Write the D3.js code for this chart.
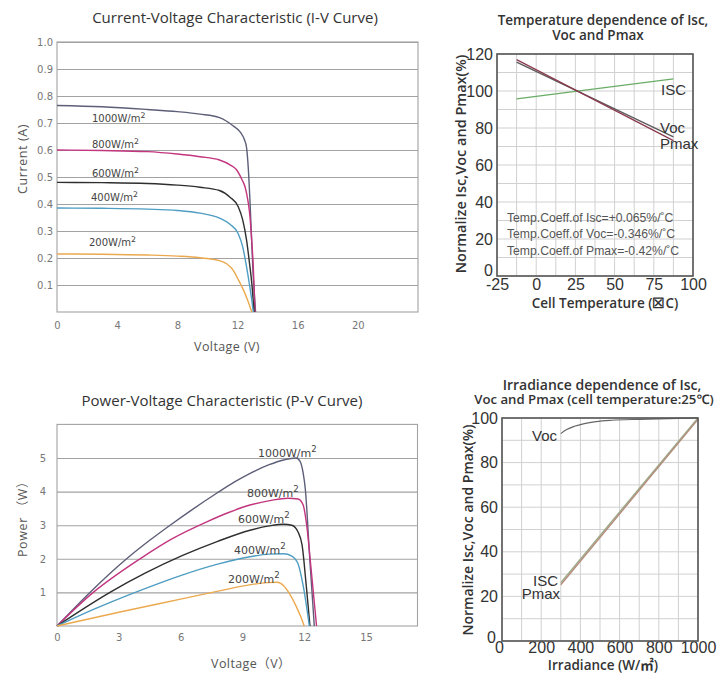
<!DOCTYPE html>
<html><head><meta charset="utf-8">
<script src="https://cdn.jsdelivr.net/npm/d3@7"></script>
<style>
body{margin:0;background:#fff;}
svg{display:block;}
</style></head><body>
<svg id="c" width="724" height="677"></svg>
<script>
// ---------------- DATA ----------------
const irradianceNames = ["1000W/m", "800W/m", "600W/m", "400W/m", "200W/m"];

// I-V curves: [voltage (V), current (A)]
const iv1000 = [[0,0.765],[3,0.76],[6,0.75],[8,0.742],[9.5,0.733],[10.8,0.72],[11.7,0.69],[12.2,0.665],[12.45,0.64],[12.6,0.61],[12.72,0.53],[12.83,0.41],[12.93,0.28],[13.02,0.16],[13.12,0.07],[13.2,0]];
const iv800  = [[0,0.60],[3,0.598],[6,0.594],[8,0.585],[9.5,0.575],[10.8,0.563],[11.5,0.545],[11.95,0.526],[12.3,0.49],[12.5,0.464],[12.7,0.41],[12.83,0.353],[12.95,0.26],[13.05,0.168],[13.16,0]];
const iv600  = [[0,0.48],[3,0.479],[6,0.476],[8,0.47],[9.5,0.462],[10.8,0.45],[11.5,0.425],[12.05,0.39],[12.35,0.34],[12.6,0.267],[12.8,0.18],[12.95,0.107],[13.1,0]];
const iv400  = [[0,0.385],[3,0.384],[6,0.381],[8,0.376],[9.5,0.366],[10.8,0.348],[11.5,0.325],[12.05,0.29],[12.35,0.24],[12.6,0.168],[12.8,0.1],[12.95,0.044],[13.05,0]];
const iv200  = [[0,0.215],[3,0.214],[6,0.211],[8,0.207],[9.5,0.201],[10.8,0.19],[11.3,0.178],[11.7,0.156],[12.05,0.12],[12.4,0.081],[12.7,0.04],[12.95,0]];
const ivVoltTicks = [0,4,8,12,16,20];
const ivCurrentTicks = [0.1,0.2,0.3,0.4,0.5,0.6,0.7,0.8,0.9,1.0];

// P-V curves: [voltage (V), power (W)]
const pv1000 = [[0,0],[1.6,1.0],[3.38,2.0],[4.5,2.55],[5.49,3.0],[6.6,3.48],[7.75,3.95],[8.6,4.28],[9.4,4.55],[10.3,4.8],[11.0,4.94],[11.6,5.0],[11.8,4.9],[11.95,4.55],[12.05,4.1],[12.27,2.0],[12.49,0]];
const pv800  = [[0,0],[1.76,1.0],[4.03,2.0],[5.6,2.6],[7.27,3.1],[8.3,3.37],[9.37,3.6],[10.4,3.74],[11.2,3.8],[11.7,3.78],[11.95,3.6],[12.1,3.1],[12.35,1.6],[12.6,0]];
const pv600  = [[0,0],[1.2,0.48],[2.57,1.0],[4.3,1.58],[6.1,2.1],[7.8,2.52],[9.37,2.85],[10.3,2.98],[11.0,3.03],[11.4,3.0],[11.7,2.8],[11.9,2.4],[12.1,1.2],[12.28,0]];
const pv400  = [[0,0],[1.8,0.5],[3.8,1.0],[6.0,1.5],[7.8,1.84],[9.37,2.06],[10.3,2.14],[11.0,2.15],[11.4,2.08],[11.7,1.85],[11.95,1.2],[12.25,0]];
const pv200  = [[0,0],[3,0.41],[6,0.8],[8,1.06],[9.4,1.23],[10.2,1.29],[10.7,1.3],[11.0,1.2],[11.3,0.95],[11.6,0.6],[11.85,0.25],[12.0,0]];
const pvVoltTicks = [0,3,6,9,12,15];
const pvPowerTicks = [1,2,3,4,5];

// Temperature dependence: [cell temperature (°C), normalized (%)]
const tempIsc  = [[-12.5,95.7],[87.5,106.6]];
const tempVoc  = [[-12.5,115.6],[87.5,75.2]];
const tempPmax = [[-12.5,117.0],[87.5,73.2]];
const tempTicks = [-25,0,25,50,75,100];
const tempPctTicks = [0,20,40,60,80,100,120];
const tempCoeffText = ["Temp.Coeff.of Isc=+0.065%/˚C","Temp.Coeff.of Voc=-0.346%/˚C","Temp.Coeff.of Pmax=-0.42%/˚C"];

// Irradiance dependence: [irradiance (W/m2), normalized (%)]
const irrVoc  = [[300,93],[330,94.8],[370,96.3],[420,97.5],[480,98.4],[560,99],[700,99.4],[850,99.7],[1000,100]];
const irrIsc  = [[300,26.2],[1000,100]];
const irrPmax = [[300,25.2],[1000,99.4]];
const irrTicks = [0,200,400,600,800,1000];
const irrPctTicks = [0,20,40,60,80,100];

// ---------------- STYLE ----------------
const seriesColors = ["#5d5e78","#c2357f","#2e2e2e","#4e9dc2","#eba94f"];
const gridGray = "#a2a2a2";
const narrow = "'Liberation Sans Narrow','Arial Narrow',sans-serif";
const sans = "'Open Sans','Noto Sans','Noto Sans CJK SC',sans-serif";
const deja = "'DejaVu Sans',sans-serif";
const plain = d => String(d);

const svg = d3.select("#c");

function styleAxis(g, font, size, fill) {
  g.attr("font-family", font).attr("font-size", size);
  g.select(".domain").remove();
  g.selectAll("text").attr("fill", fill);
}
function supLabel(g, x, y, name, size, color) {
  const t = g.append("text").attr("x", x).attr("y", y)
    .attr("font-family", deja).attr("font-size", size).attr("fill", color);
  t.append("tspan").text(name);
  t.append("tspan").attr("dy", -size*0.42).attr("font-size", size*0.78).text("2");
}

// ================= Chart A: I-V =================
{
  const g = svg.append("g");
  const x = d3.scaleLinear().domain([0,24]).range([57,418]);
  const y = d3.scaleLinear().domain([0,1]).range([312,42]);
  g.append("g").attr("transform","translate(57,0)")
    .call(d3.axisLeft(y).tickValues(ivCurrentTicks).tickSize(-(418-57)).tickPadding(4).tickFormat(d3.format(".1f")))
    .call(a => styleAxis(a, deja, 10, "#777"))
    .call(a => a.selectAll("line").attr("stroke", gridGray).attr("stroke-width",1.1));
  g.append("g").attr("transform","translate(0,312)")
    .call(d3.axisBottom(x).tickValues(ivVoltTicks).tickSize(0).tickPadding(10).tickFormat(plain))
    .call(a => styleAxis(a, deja, 10, "#777"));
  g.append("rect").attr("x",57).attr("y",42).attr("width",418-57).attr("height",312-42)
    .attr("fill","none").attr("stroke",gridGray).attr("stroke-width",1.1);
  const line = d3.line().x(d=>x(d[0])).y(d=>y(d[1])).curve(d3.curveMonotoneX);
  const series = [iv1000, iv800, iv600, iv400, iv200];
  g.selectAll("path.iv").data(series).join("path").attr("class","iv")
    .attr("d", line).attr("fill","none").attr("stroke",(d,i)=>seriesColors[i]).attr("stroke-width",1.4);
  const labelPos = [[92,122],[92,148],[92,177],[91,201],[89,246]];
  irradianceNames.forEach((n,i)=>supLabel(g, labelPos[i][0], labelPos[i][1], n, 10, "#444"));
  g.append("text").attr("x",235).attr("y",23).attr("text-anchor","middle")
    .attr("font-family",sans).attr("font-size",15).attr("fill","#333")
    .text("Current-Voltage Characteristic (I-V Curve)");
  g.append("text").attr("transform","translate(27,159) rotate(-90)").attr("text-anchor","middle")
    .attr("font-family",sans).attr("font-size",12.5).attr("letter-spacing",0.6).attr("fill","#555")
    .text("Current (A)");
  g.append("text").attr("x",227).attr("y",351).attr("text-anchor","middle")
    .attr("font-family",sans).attr("font-size",12.5).attr("letter-spacing",0.4).attr("fill","#555")
    .text("Voltage (V)");
}

// ================= Chart B: P-V =================
{
  const g = svg.append("g");
  const x = d3.scaleLinear().domain([0,17.5]).range([57,417.5]);
  const y = d3.scaleLinear().domain([0,6]).range([626,424.4]);
  g.append("g").attr("transform","translate(57,0)")
    .call(d3.axisLeft(y).tickValues(pvPowerTicks).tickSize(-(417.5-57)).tickPadding(11).tickFormat(plain))
    .call(a => styleAxis(a, deja, 10, "#777"))
    .call(a => a.selectAll("line").attr("stroke", gridGray).attr("stroke-width",1.1));
  g.append("g").attr("transform","translate(0,626)")
    .call(d3.axisBottom(x).tickValues(pvVoltTicks).tickSize(0).tickPadding(8).tickFormat(plain))
    .call(a => styleAxis(a, deja, 10, "#777"));
  g.append("rect").attr("x",57).attr("y",424.4).attr("width",417.5-57).attr("height",626-424.4)
    .attr("fill","none").attr("stroke",gridGray).attr("stroke-width",1.1);
  const line = d3.line().x(d=>x(d[0])).y(d=>y(d[1])).curve(d3.curveMonotoneX);
  const series = [pv1000, pv800, pv600, pv400, pv200];
  g.selectAll("path.pv").data(series).join("path").attr("class","pv")
    .attr("d", line).attr("fill","none").attr("stroke",(d,i)=>seriesColors[i]).attr("stroke-width",1.4);
  const labelPos = [[258,457],[247,497],[238,522.5],[234,554],[228,582.5]];
  irradianceNames.forEach((n,i)=>supLabel(g, labelPos[i][0], labelPos[i][1], n, 11, "#444"));
  g.append("text").attr("x",222).attr("y",406).attr("text-anchor","middle")
    .attr("font-family",sans).attr("font-size",15).attr("fill","#333")
    .text("Power-Voltage Characteristic (P-V Curve)");
  g.append("text").attr("transform","translate(27,516) rotate(-90)").attr("text-anchor","middle")
    .attr("font-family",sans).attr("font-size",12.5).attr("letter-spacing",0.6).attr("fill","#555")
    .text("Power （W）");
  g.append("text").attr("x",251).attr("y",668).attr("text-anchor","middle")
    .attr("font-family",sans).attr("font-size",12.5).attr("letter-spacing",0.4).attr("fill","#555")
    .text("Voltage（V）");
}

// ================= Chart C: Temperature dependence =================
{
  const g = svg.append("g");
  const x = d3.scaleLinear().domain([-25,100]).range([497,693]);
  const y = d3.scaleLinear().domain([0,120]).range([276,54]);
  g.append("g").selectAll("line").data(d3.range(-25,100.1,12.5)).join("line")
    .attr("x1",d=>x(d)).attr("x2",d=>x(d)).attr("y1",54).attr("y2",276)
    .attr("stroke","#d0d0d0").attr("stroke-width",1);
  g.append("g").selectAll("line").data(d3.range(0,120.1,10)).join("line")
    .attr("y1",d=>y(d)).attr("y2",d=>y(d)).attr("x1",497).attr("x2",693)
    .attr("stroke","#d0d0d0").attr("stroke-width",1);
  g.append("g").attr("transform","translate(0,276)")
    .call(d3.axisBottom(x).tickValues(tempTicks).tickSize(0).tickPadding(3).tickFormat(plain))
    .call(a => styleAxis(a, narrow, 16, "#333"));
  g.append("g").attr("transform","translate(497,0)")
    .call(d3.axisLeft(y).tickValues(tempPctTicks).tickSize(0).tickPadding(4).tickFormat(plain))
    .call(a => styleAxis(a, narrow, 16, "#333"))
    .call(a => a.selectAll(".tick").filter(d => d === 0).select("text").attr("y", -6));
  const line = d3.line().x(d=>x(d[0])).y(d=>y(d[1]));
  g.append("path").attr("d",line(tempIsc)).attr("fill","none").attr("stroke","#6aac66").attr("stroke-width",1.3);
  g.append("path").attr("d",line(tempVoc)).attr("fill","none").attr("stroke","#5a5a5a").attr("stroke-width",1.3);
  g.append("path").attr("d",line(tempPmax)).attr("fill","none").attr("stroke","#8b3a4e").attr("stroke-width",1.3);
  g.append("rect").attr("x",497).attr("y",54).attr("width",693-497).attr("height",276-54)
    .attr("fill","none").attr("stroke","#555").attr("stroke-width",1.6);
  const lbl = (tx,ty,t,s) => g.append("text").attr("x",tx).attr("y",ty)
    .attr("font-family",narrow).attr("font-size",s).attr("fill","#333").text(t);
  lbl(661,95,"ISC",15); lbl(660,133,"Voc",15); lbl(660,149,"Pmax",15);
  tempCoeffText.forEach((t,i)=>g.append("text").attr("x",507).attr("y",[221.5,238,254.5][i])
    .attr("font-family",narrow).attr("font-size",12.2).attr("fill","#555").text(t));
  g.append("text").attr("x",603).attr("y",25).attr("text-anchor","middle")
    .attr("font-family",sans).attr("font-size",13.5).attr("font-weight",600).attr("fill","#333")
    .text("Temperature dependence of Isc,");
  g.append("text").attr("x",598).attr("y",40).attr("text-anchor","middle")
    .attr("font-family",sans).attr("font-size",13.5).attr("font-weight",600).attr("fill","#333")
    .text("Voc and Pmax");
  g.append("text").attr("transform","translate(466,164) rotate(-90)").attr("text-anchor","middle")
    .attr("font-family",sans).attr("font-size",14.5).attr("font-weight",600).attr("fill","#333")
    .text("Normalize Isc,Voc and Pmax(%)");
  g.append("text").attr("x",605).attr("y",308).attr("text-anchor","middle")
    .attr("font-family",sans).attr("font-size",13.5).attr("font-weight",600).attr("fill","#333")
    .text("Cell Temperature (☒C)");
}

// ================= Chart D: Irradiance dependence =================
{
  const g = svg.append("g");
  const x = d3.scaleLinear().domain([0,1000]).range([502,698]);
  const y = d3.scaleLinear().domain([0,100]).range([641,418]);
  g.append("g").selectAll("line").data(d3.range(0,1000.1,100)).join("line")
    .attr("x1",d=>x(d)).attr("x2",d=>x(d)).attr("y1",418).attr("y2",641)
    .attr("stroke","#d0d0d0").attr("stroke-width",1);
  g.append("g").selectAll("line").data(d3.range(0,100.1,10)).join("line")
    .attr("y1",d=>y(d)).attr("y2",d=>y(d)).attr("x1",502).attr("x2",698)
    .attr("stroke","#d0d0d0").attr("stroke-width",1);
  g.append("g").attr("transform","translate(0,641)")
    .call(d3.axisBottom(x).tickValues(irrTicks).tickSize(0).tickPadding(1).tickFormat(plain))
    .call(a => styleAxis(a, narrow, 16, "#333"))
    .call(a => a.selectAll(".tick").filter(d => d === 0).select("text").attr("x", -3));
  g.append("g").attr("transform","translate(502,0)")
    .call(d3.axisLeft(y).tickValues(irrPctTicks).tickSize(0).tickPadding(4).tickFormat(plain))
    .call(a => styleAxis(a, narrow, 16, "#333"))
    .call(a => a.selectAll(".tick").filter(d => d === 0).select("text").attr("y", -4).attr("x", -6));
  const line = d3.line().x(d=>x(d[0])).y(d=>y(d[1])).curve(d3.curveMonotoneX);
  g.append("path").attr("d",line(irrVoc)).attr("fill","none").attr("stroke","#666").attr("stroke-width",1.2);
  g.append("path").attr("d",line(irrIsc)).attr("fill","none").attr("stroke","#9aaa86").attr("stroke-width",1.4);
  g.append("path").attr("d",line(irrPmax)).attr("fill","none").attr("stroke","#b48c7c").attr("stroke-width",1.4);
  g.append("rect").attr("x",502).attr("y",418).attr("width",698-502).attr("height",641-418)
    .attr("fill","none").attr("stroke","#555").attr("stroke-width",1.6);
  const lbl = (tx,ty,t) => g.append("text").attr("x",tx).attr("y",ty).attr("text-anchor","end")
    .attr("font-family",narrow).attr("font-size",15).attr("fill","#333").text(t);
  lbl(557,441,"Voc"); lbl(558,586,"ISC"); lbl(560,599,"Pmax");
  g.append("text").attr("x",602).attr("y",390).attr("text-anchor","middle")
    .attr("font-family",sans).attr("font-size",14).attr("font-weight",600).attr("fill","#333")
    .text("Irradiance dependence of Isc,");
  g.append("text").attr("x",594).attr("y",403.5).attr("text-anchor","middle")
    .attr("font-family",sans).attr("font-size",13.2).attr("font-weight",600).attr("fill","#333")
    .text("Voc and Pmax (cell temperature:25℃)");
  g.append("text").attr("transform","translate(473,530) rotate(-90)").attr("text-anchor","middle")
    .attr("font-family",sans).attr("font-size",14).attr("font-weight",600).attr("fill","#333")
    .text("Normalize Isc,Voc and Pmax(%)");
  g.append("text").attr("x",603).attr("y",670).attr("text-anchor","middle")
    .attr("font-family",sans).attr("font-size",13.5).attr("font-weight",600).attr("fill","#333")
    .text("Irradiance (W/㎡)");
}
</script>
</body></html>
